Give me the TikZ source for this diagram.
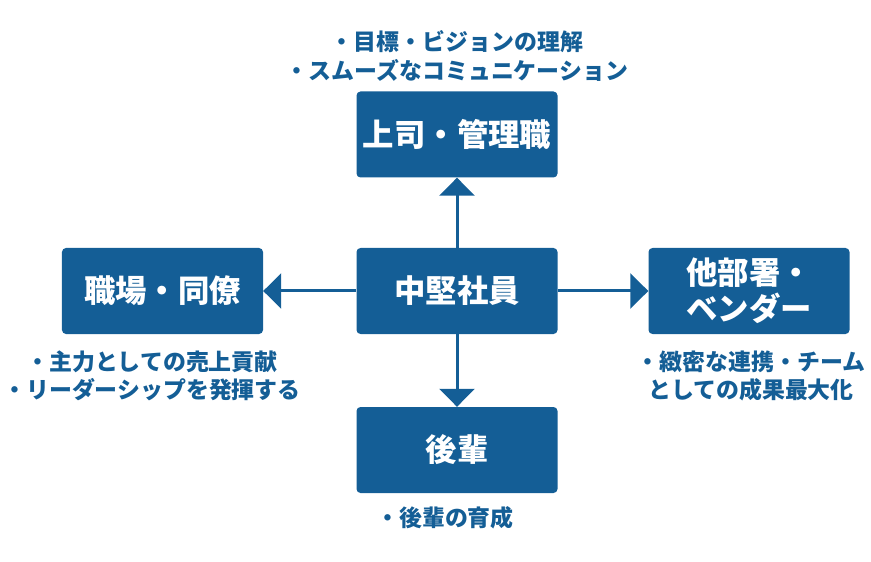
\documentclass[tikz,border=0pt]{standalone}
\usepackage{fontspec}
\usetikzlibrary{arrows.meta}
\newfontfamily\jpfont{Noto Sans CJK JP}
\definecolor{mainblue}{RGB}{20,94,150}

\begin{document}
\begin{tikzpicture}[x=1bp, y=-1bp]
    \tikzstyle{box}=[fill=mainblue, rounded corners=4bp, minimum width=201bp, minimum height=86bp, inner sep=2bp, text=white, align=center, font=\jpfont\bfseries\fontsize{31.5}{36}\selectfont]
    \tikzstyle{note}=[text=mainblue, align=center, inner sep=0pt, font=\jpfont\bfseries\fontsize{23}{28.5}\selectfont]
    \tikzstyle{link}=[draw=mainblue, line width=3bp, -{Triangle[width=35bp, length=18bp]}]
    \useasboundingbox (0,0) rectangle (871,562);

    % boxes
    \node[box] (mid) at (457,291) {中堅社員};
    \node[box] (boss) at (457,134.5) {上司・管理職};
    \node[box] (peer) at (162.5,291) {職場・同僚};
    \node[box] (other) at (749,291) {他部署・\\ベンダー};
    \node[box] (junior) at (457,450) {後輩};

    % arrows
    \draw[link] (mid) -- (boss);
    \draw[link] (mid) -- (peer);
    \draw[link] (mid) -- (other);
    \draw[link] (mid) -- (junior);

    % notes
    \node[note] (bossnote) at (457,56) {・目標・ビジョンの理解\\・スムーズなコミュニケーション};
    \node[note] (peernote) at (152,376) {・主力としての売上貢献\\・リーダーシップを発揮する};
    \node[note] (othernote) at (751,376) {・緻密な連携・チーム\\としての成果最大化};
    \node[note] (juniornote) at (445,518) {・後輩の育成};
\end{tikzpicture}
\end{document}
